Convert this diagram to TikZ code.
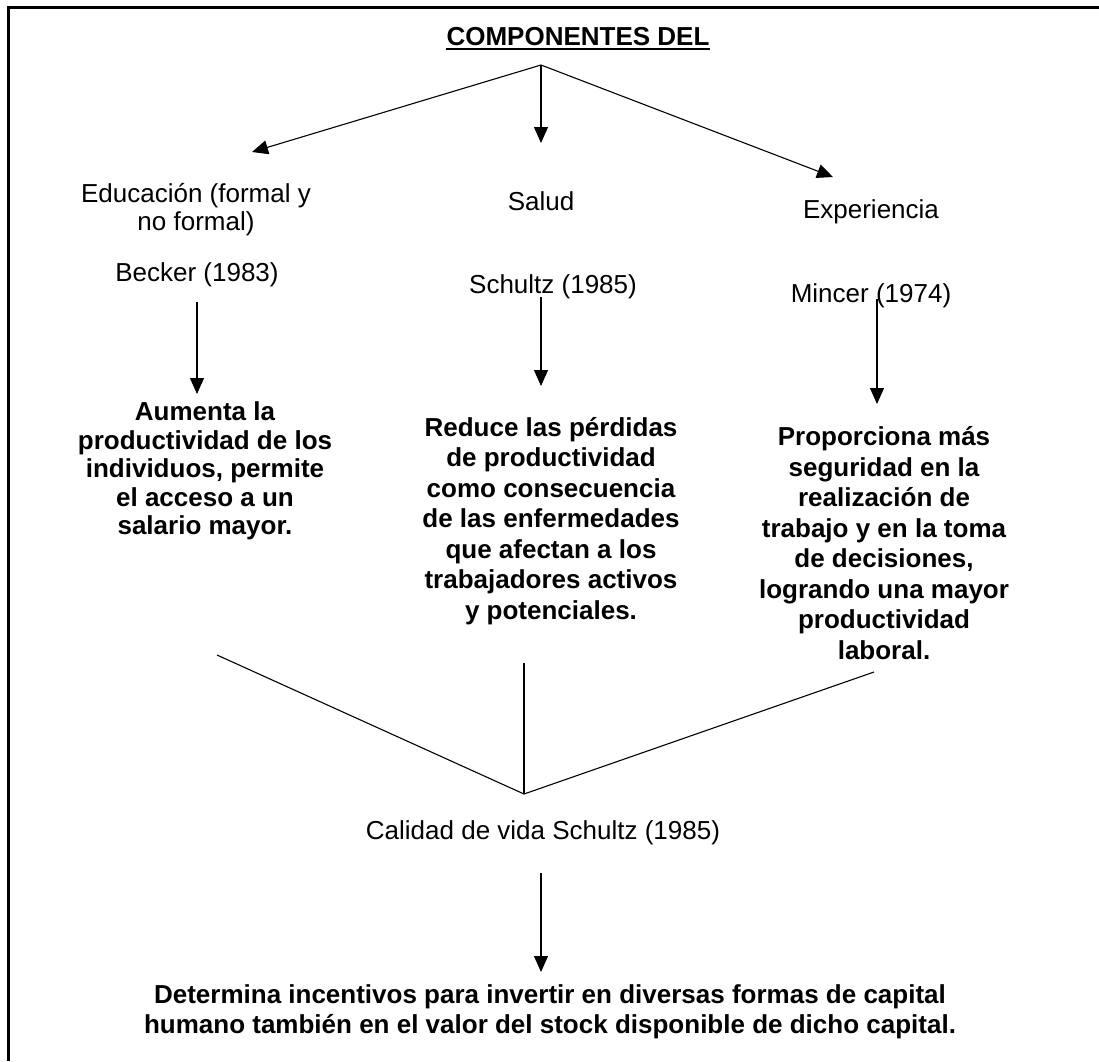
\documentclass[tikz,border=0pt]{standalone}
\usepackage{fontspec}
\setmainfont{Liberation Sans}
\usetikzlibrary{arrows.meta}

\begin{document}
\begin{tikzpicture}
        [x=1pt, y=-1pt,
         flecha/.style={-{Triangle[length=16pt,width=14pt]}, line width=1.1pt},
         linea/.style={line width=1.1pt},
         texto/.style={font=\fontsize{26}{28}\selectfont, align=center, inner sep=0pt},
         negrita/.style={font=\fontsize{26}{30.5}\selectfont\bfseries, align=center, inner sep=0pt}]
        \useasboundingbox (0,0) rectangle (1099,1061);
        % marco: solo arriba e izquierda
        \draw[line width=3pt] (8,1061) -- (8,7) -- (1099,7);

        \node[negrita, anchor=base] (titulo) at (578,45) {COMPONENTES DEL};
        \draw[line width=2.5pt] ([yshift=-4pt]titulo.base west) -- ([yshift=-4pt]titulo.base east);
        \coordinate (origen) at (541,65);

        \node[texto] (educacion) at (196,210) {Educación (formal y\\no formal)};
        \node[texto] (salud) at (541,201) {Salud};
        \node[texto] (experiencia) at (871,212) {Experiencia};
        \coordinate (educacion in) at (252,152);
        \coordinate (salud in) at (541,143);
        \coordinate (experiencia in) at (833,177);
        \draw[flecha] (origen) -- (educacion in);
        \draw[flecha] (origen) -- (salud in);
        \draw[flecha] (origen) -- (experiencia in);

        \node[texto] (becker) at (197,275) {Becker (1983)};
        \node[texto] (schultz) at (553,287) {Schultz (1985)};
        \node[texto] (mincer) at (871,296) {Mincer (1974)};
        \coordinate (becker out) at (197,302);
        \coordinate (schultz out) at (541,297);
        \coordinate (mincer out) at (877,299);
        \coordinate (aumenta in) at (197,394);
        \coordinate (reduce in) at (541,386);
        \coordinate (proporciona in) at (877,404);
        \draw[flecha] (becker out) -- (aumenta in);
        \draw[flecha] (schultz out) -- (reduce in);
        \draw[flecha] (mincer out) -- (proporciona in);

        \node[negrita, font=\fontsize{26}{28.5}\selectfont\bfseries] (aumenta) at (205,471)
            {Aumenta la\\productividad de los\\individuos, permite\\el acceso a un\\salario mayor.};
        \node[negrita] (reduce) at (551,521)
            {Reduce las pérdidas\\de productividad\\como consecuencia\\de las enfermedades\\que afectan a los\\trabajadores activos\\y potenciales.};
        \node[negrita] (proporciona) at (884,543)
            {Proporciona más\\seguridad en la\\realización de\\trabajo y en la toma\\de decisiones,\\logrando una mayor\\productividad\\laboral.};

        \coordinate (izq) at (217,655);
        \coordinate (centro) at (524,663);
        \coordinate (der) at (874,672);
        \coordinate (union) at (524,794);
        \draw[linea] (izq) -- (union) -- (der);
        \draw[linea] (centro) -- (union);

        \node[texto] (calidad) at (543,833) {Calidad de vida Schultz (1985)};
        \coordinate (calidad out) at (541,873);
        \coordinate (determina in) at (541,972);
        \draw[flecha] (calidad out) -- (determina in);
        \node[negrita, font=\fontsize{26}{30}\selectfont\bfseries] (determina) at (550,1012)
            {Determina incentivos para invertir en diversas formas de capital\\humano también en el valor del stock disponible de dicho capital.};
\end{tikzpicture}
\end{document}
